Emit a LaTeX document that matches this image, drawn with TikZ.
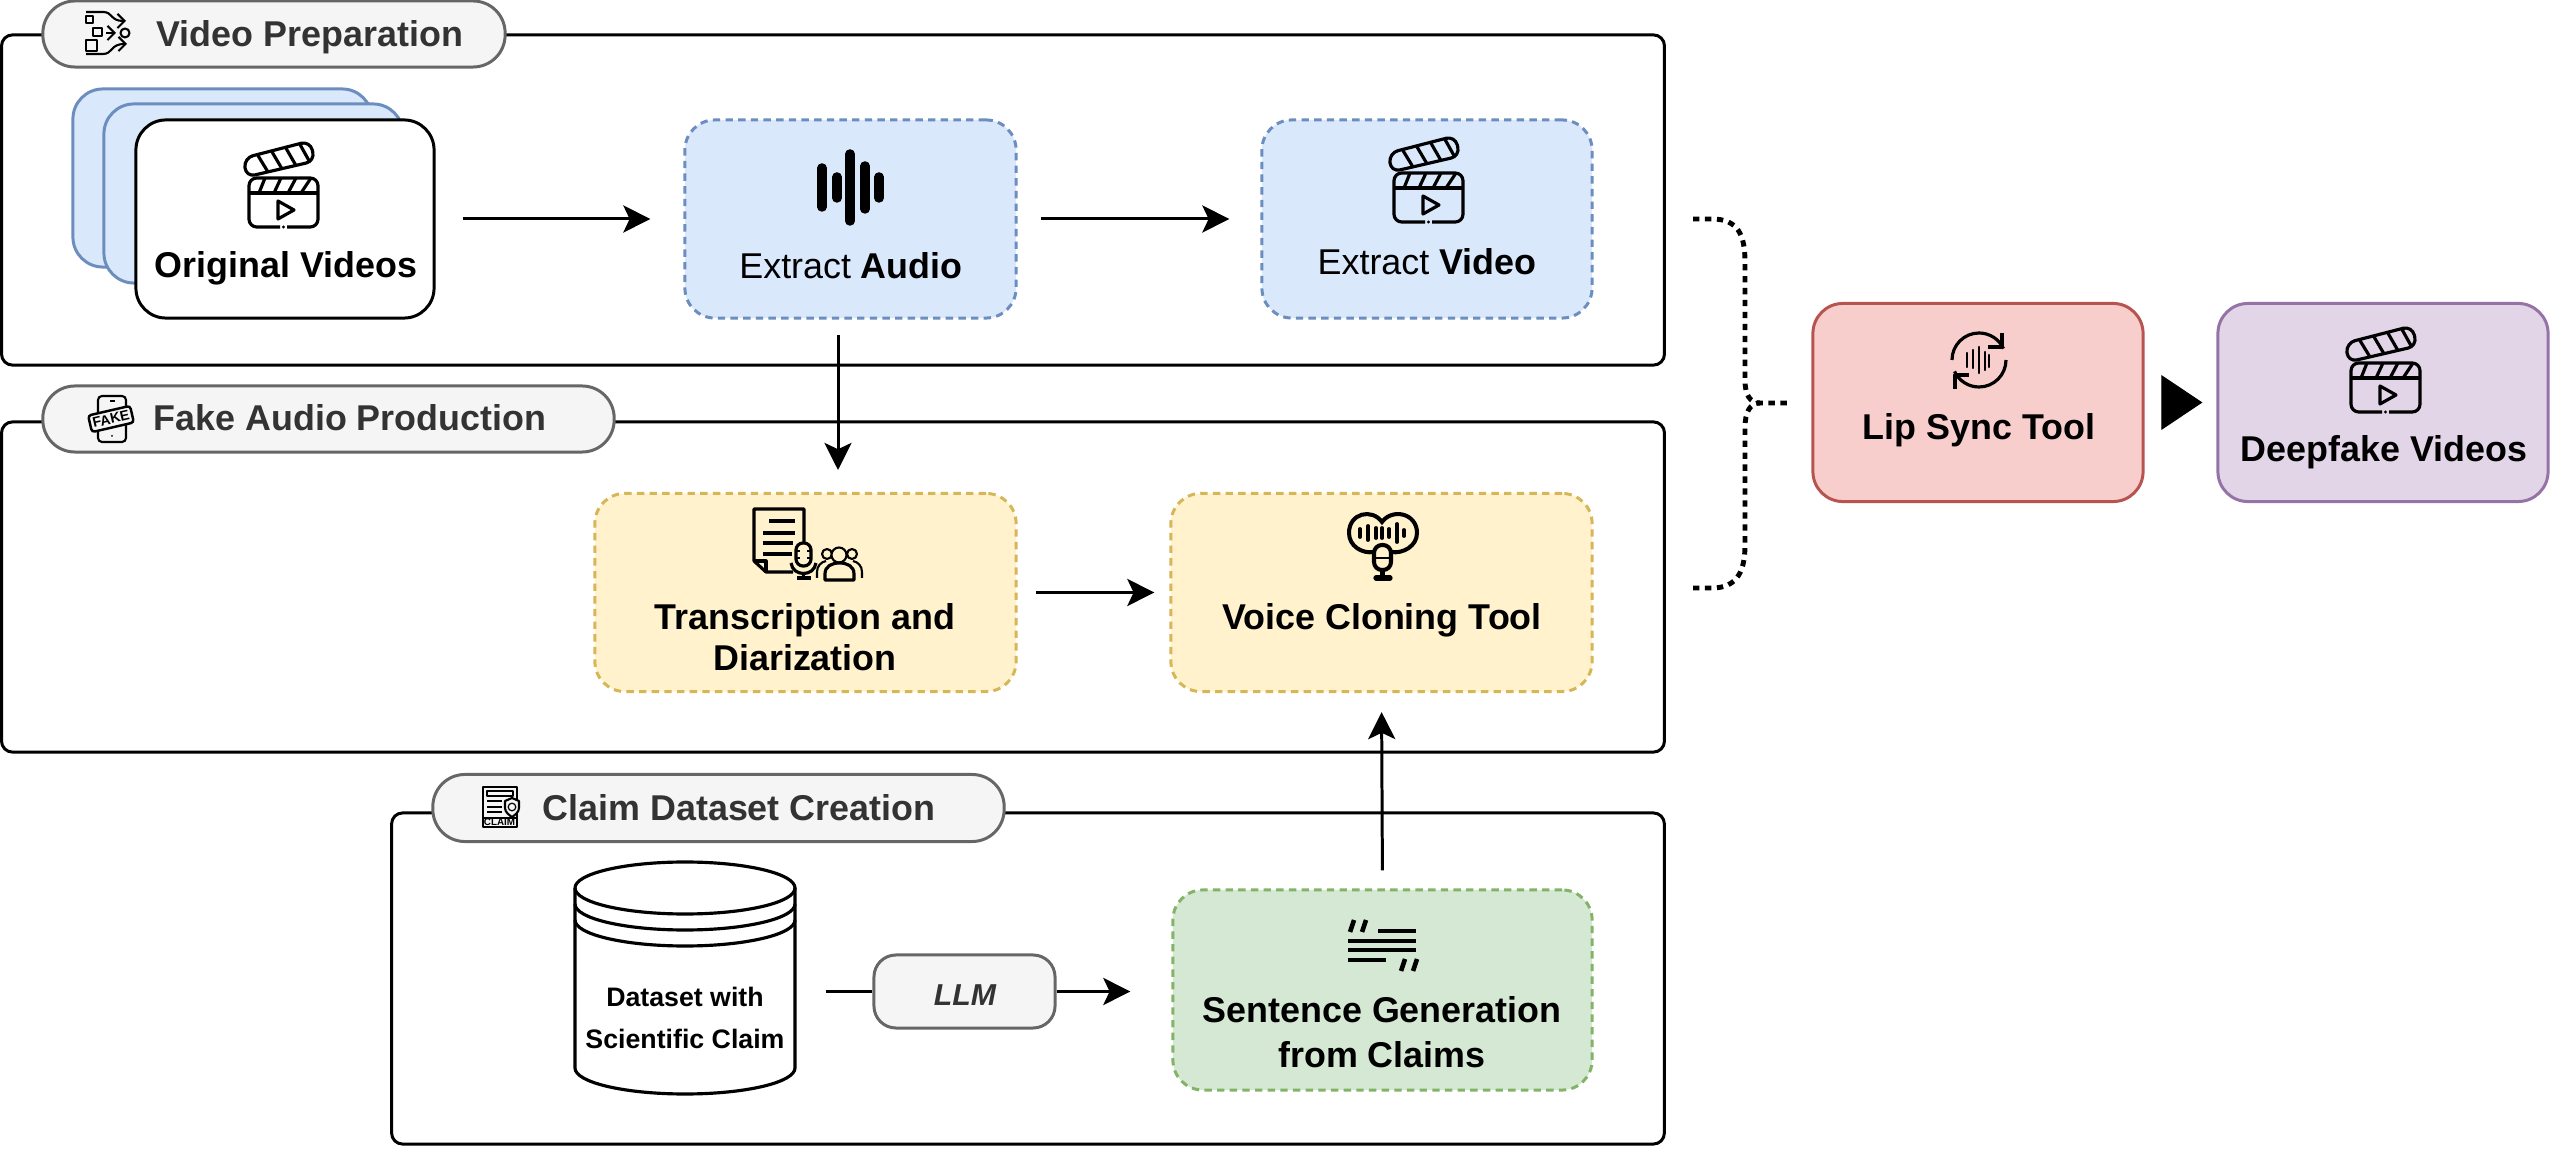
\documentclass[tikz,border=0pt]{standalone}
\usepackage{fontspec}
\setmainfont{Liberation Sans}
\usetikzlibrary{arrows.meta}
\definecolor{blueFill}{HTML}{DAE8FC}
\definecolor{blueLine}{HTML}{6C8EBF}
\definecolor{goldFill}{HTML}{FFF2CC}
\definecolor{goldLine}{HTML}{D6B656}
\definecolor{greenFill}{HTML}{D5E8D4}
\definecolor{greenLine}{HTML}{82B366}
\definecolor{redFill}{HTML}{F8CECC}
\definecolor{redLine}{HTML}{B85450}
\definecolor{purpleFill}{HTML}{E1D5E7}
\definecolor{purpleLine}{HTML}{9673A6}
\definecolor{pillFill}{HTML}{F5F5F5}
\definecolor{pillLine}{HTML}{666666}
\definecolor{pillText}{HTML}{333333}
\tikzset{
  group box/.style={draw, line width=0.85pt, rounded corners=0.11cm, inner sep=0pt},
  pill box/.style={draw=pillLine, fill=pillFill, line width=0.85pt, rounded corners=0.32cm, inner sep=0pt},
  pill text/.style={text=pillText, font=\fontsize{10.2}{12}\selectfont\bfseries, inner sep=0pt, anchor=west},
  card box/.style={line width=0.85pt, rounded corners=0.3cm, inner sep=0pt, minimum height=1.98cm},
  dash box/.style={card box, dash pattern=on 2.1pt off 1.5pt},
  box text/.style={font=\fontsize{10.2}{11.8}\selectfont, align=center, inner sep=0pt},
  flow/.style={line width=0.85pt, -{Stealth[length=7.7pt, width=7.7pt, inset=1.8pt]}},
  brace dots/.style={line width=1.4pt, dash pattern=on 1.8pt off 1.6pt},
  icon line/.style={line width=0.9pt, line join=round},
  icon thin/.style={line width=0.6pt, line join=round},
  pics/clapper/.style={
    code={
      \draw[icon line, rounded corners=2.2pt] (31, 49) -- (0, 49) -- (0, 0) -- (69, 0) -- (69, 49) -- (38, 49);
      \fill (34.5, 49) circle[radius=1.6];
      \draw[icon line] (0, 15) -- (69, 15);
      \foreach \a/\b in {16/10, 32/25, 47/39, 62/52} {
        \draw[icon line] (\a, 0) -- (\b, 15);
      }
      \draw[icon line, rounded corners=2.6pt] (-3, -1) -- (-5, -20) -- (61, -37) -- (66, -17) -- cycle;
      \foreach \i in {0, 1, 2, 3} {
        \draw[icon line] ({9+14*\i}, {-22.4-3.7*\i}) -- ({19+14*\i}, {-6-3.2*\i});
      }
      \draw[icon line] (29, 23) -- (29, 41) -- (45, 32) -- cycle;
    }
  }
}

\begin{document}
\begin{tikzpicture}[x=0.01cm, y=-0.01cm]
			\useasboundingbox (0, 0) rectangle (2550, 1149);

			% section frames
			\node[group box, minimum width=16.62cm, minimum height=3.3cm] (prepframe) at (833, 200) {};
			\node[group box, minimum width=16.62cm, minimum height=3.3cm] (fakeframe) at (833, 587) {};
			\node[group box, minimum width=12.72cm, minimum height=3.31cm] (claimframe) at (1028, 978.5) {};

			% section titles
			\node[pill box, minimum width=4.62cm, minimum height=0.66cm] (preppill) at (274, 34) {};
			\node[pill text] (preptext) at (156, 37) {Video Preparation};
			\node[pill box, minimum width=5.71cm, minimum height=0.66cm] (fakepill) at (328.5, 419) {};
			\node[pill text] (faketext) at (153, 418) {Fake Audio Production};
			\node[pill box, minimum width=5.71cm, minimum height=0.67cm] (claimpill) at (718.5, 808) {};
			\node[pill text] (claimtext) at (542, 808) {Claim Dataset Creation};

			% stacked cards
			\node[card box, draw=blueLine, fill=blueFill, minimum width=2.99cm, minimum height=1.78cm] (backa) at (222.5, 178) {};
			\node[card box, draw=blueLine, fill=blueFill, minimum width=2.99cm, minimum height=1.79cm] (backb) at (253.5, 193.5) {};
			\node[card box, draw=black, fill=white, minimum width=2.98cm] (orig) at (285, 219) {};

			% process boxes
			\node[dash box, draw=blueLine, fill=blueFill, minimum width=3.31cm] (audio) at (850.5, 219) {};
			\node[dash box, draw=blueLine, fill=blueFill, minimum width=3.3cm] (video) at (1427, 219) {};
			\node[dash box, draw=goldLine, fill=goldFill, minimum width=4.21cm] (transcribe) at (805.5, 592.5) {};
			\node[dash box, draw=goldLine, fill=goldFill, minimum width=4.21cm] (voice) at (1381.5, 592.5) {};
			\node[dash box, draw=greenLine, fill=greenFill, minimum width=4.19cm, minimum height=2cm] (sentence) at (1382.5, 990) {};
			\node[card box, draw=redLine, fill=redFill, minimum width=3.3cm] (lipsync) at (1978, 402.5) {};
			\node[card box, draw=purpleLine, fill=purpleFill, minimum width=3.3cm] (deepfake) at (2383, 402.5) {};
			\node[draw=pillLine, fill=pillFill, line width=0.85pt, rounded corners=0.22cm, inner sep=0pt, minimum width=1.81cm, minimum height=0.73cm] (llm) at (964.5, 991.5) {};
			\node[font=\fontsize{8.6}{10}\selectfont\bfseries\itshape, text=pillText, inner sep=0pt] (llmtext) at (965, 995) {LLM};

			% box texts
			\node[box text] (origtext) at (286, 268) {\bfseries Original Videos};
			\node[box text] (audiotext) at (851, 266) {Extract \textbf{Audio}};
			\node[box text] (videotext) at (1427, 262) {Extract \textbf{Video}};
			\node[box text] (transcribetext) at (805, 637) {\bfseries Transcription and\\ \bfseries Diarization};
			\node[box text] (voicetext) at (1382, 620) {\bfseries Voice Cloning Tool};
			\node[box text, font=\fontsize{10.2}{12.8}\selectfont] (sentencetext) at (1382, 1032) {\bfseries Sentence Generation\\ \bfseries from Claims};
			\node[box text] (lipsynctext) at (1979, 430) {\bfseries Lip Sync Tool};
			\node[box text] (deepfaketext) at (2384, 452) {\bfseries Deepfake Videos};

			% dataset cylinder
			\node[inner sep=0pt, minimum width=2.2cm, minimum height=2.32cm] (dataset) at (685, 978) {};
			\draw[icon line] (575, 888) arc[start angle=180, end angle=-180, x radius=110, y radius=26];
			\draw[icon line] (575, 888) -- (575, 1068) arc[start angle=180, end angle=0, x radius=110, y radius=26] -- (795, 888);
			\draw[icon line] (575, 904) arc[start angle=180, end angle=0, x radius=110, y radius=26];
			\draw[icon line] (575, 920) arc[start angle=180, end angle=0, x radius=110, y radius=26];
			\node[align=center, inner sep=0pt, font=\fontsize{7.6}{11.9}\selectfont\bfseries] (datasettext) at (685, 1018) {Dataset with\\ Scientific Claim};

			% connectors
			\draw[flow, shorten <=0.27cm, shorten >=0.33cm] (orig.east) -- (audio.west);
			\draw[flow, shorten <=0.23cm, shorten >=0.31cm] (audio.east) -- (video.west);
			\coordinate (audioout) at (838, 335);
			\coordinate (transin) at (838, 470);
			\draw[flow] (audioout) -- (transin);
			\draw[flow, shorten <=0.18cm, shorten >=0.15cm] (transcribe.east) -- (voice.west);
			\draw[flow, shorten <=0.18cm, shorten >=0.19cm] (sentence.north) -- (voice.south);
			\draw[line width=0.85pt, shorten <=0.3cm] (dataset.east |- llm.west) -- (llm.west);
			\draw[flow, shorten >=0.41cm] (llm.east) -- (llm.east -| sentence.west);
			\draw[line width=0.3pt, -{Triangle[length=11.7pt, width=15.6pt]}, shorten <=0.25cm, shorten >=0.14cm] (lipsync.east) -- (deepfake.west);

			% dotted brace
			\coordinate (bracetop) at (1693, 219);
			\coordinate (bracebot) at (1693, 588);
			\coordinate (bracetip) at (1790, 403);
			\draw[brace dots] (bracetop) -- (1712, 219) .. controls (1738, 219) and (1745, 235) .. (1745, 262) -- (1745, 380) .. controls (1745, 395) and (1750, 403) .. (1760, 403) -- (bracetip);
			\draw[brace dots] (bracebot) -- (1712, 588) .. controls (1738, 588) and (1745, 570) .. (1745, 545) -- (1745, 428) .. controls (1745, 412) and (1750, 403) .. (1760, 403);

			% clapper icons
			\pic at (249, 178) {clapper};
			\pic at (1394, 173) {clapper};
			\pic at (2351, 363) {clapper};

			% waveform icon
			\foreach \bx/\by/\bz in {822/168/207, 837/177/198, 850/154/221, 865/166/209, 879/177/198} {
				\draw[line width=2.7pt, line cap=round] (\bx, \by) -- (\bx, \bz);
			}

			% transcription icon
			\draw[icon line] (804, 542) -- (804, 509) -- (754, 509) -- (754, 561) -- (766, 572) -- (793, 572);
			\draw[icon line] (754, 561) -- (766, 561) -- (766, 572);
			\foreach \ly/\la/\lb in {521/769/795, 533/763/795, 543/763/793, 554/763/792} {
				\draw[icon line] (\la, \ly) -- (\lb, \ly);
			}
			\draw[icon line, fill=goldFill, rounded corners=0.07cm] (796, 543) rectangle (811, 566);
			\draw[icon thin] (796, 551) -- (800, 551) (807, 551) -- (811, 551) (796, 558) -- (800, 558) (807, 558) -- (811, 558);
			\draw[icon line] (791, 563) .. controls (793, 577) and (814, 577) .. (816, 563);
			\draw[icon line] (803.5, 574) -- (803.5, 578) (797, 578) -- (811, 578);
			\draw[icon thin] (827, 554) circle[radius=5] (852, 554) circle[radius=5];
			\draw[icon thin] (817, 578) -- (817, 572) .. controls (817, 566) and (821, 562) .. (826, 561);
			\draw[icon thin] (862, 578) -- (862, 572) .. controls (862, 566) and (858, 562) .. (853, 561);
			\draw[icon thin, fill=goldFill] (839, 555) circle[radius=7.5];
			\draw[icon line, fill=goldFill] (825, 580) -- (825, 574) .. controls (825, 566) and (832, 563) .. (839.5, 563) .. controls (847, 563) and (854, 566) .. (854, 574) -- (854, 580) -- cycle;

			% voice icon
			\draw[line width=1.15pt, fill=goldFill] (1382, 522) .. controls (1372, 508) and (1349, 513) .. (1349, 533) .. controls (1349, 546) and (1362, 554) .. (1374, 552) -- (1391, 552) .. controls (1403, 554) and (1417, 546) .. (1417, 533) .. controls (1417, 513) and (1392, 508) .. (1382, 522) -- cycle;
			\foreach \bx/\bh in {1360/4, 1368/7, 1376/5, 1382/5, 1389/4, 1397/9, 1404/3} {
				\draw[line width=1.1pt, line cap=round] (\bx, {533-\bh}) -- (\bx, {533+\bh});
			}
			\draw[line width=1.15pt, fill=goldFill, rounded corners=0.08cm] (1374, 545) rectangle (1391, 570);
			\draw[line width=0.7pt] (1374, 558) -- (1391, 558);
			\draw[line width=1.15pt] (1382.5, 570) -- (1382.5, 577);
			\draw[line width=1.5pt, line cap=round] (1376, 578) -- (1390, 578);

			% quote icon
			\foreach \qy/\qa/\qb in {931/1378/1416, 941/1348/1416, 950/1348/1416, 960/1348/1386} {
				\draw[line width=1pt] (\qa, \qy) -- (\qb, \qy);
			}
			\draw[line width=1.3pt] (1354, 920) -- (1350, 932) (1366, 920) -- (1362, 932);
			\draw[line width=1.3pt] (1405, 959) -- (1401, 971) (1417, 959) -- (1413, 971);

			% lip sync icon
			\draw[icon line] (1952, 360) arc[start angle=180, end angle=335, radius=27];
			\draw[icon line] (2006, 360) arc[start angle=0, end angle=155, radius=27];
			\draw[icon line] (2002, 333) -- (2002, 347) -- (1988, 347);
			\draw[icon line] (1955, 389) -- (1955, 375) -- (1969, 375);
			\foreach \bx/\by/\bz in {1967/353/367, 1973/350/368, 1979/347/373, 1985/352/370, 1989/355/367} {
				\draw[line width=0.7pt, line cap=round] (\bx, \by) -- (\bx, \bz);
			}

			% workflow icon
			\draw[icon thin] (86, 16) rectangle (93, 23) (93, 28) rectangle (102, 36) (86, 40) rectangle (97, 51);
			\draw[icon thin, -{Straight Barb[length=2pt]}] (86, 12) -- (103, 12) .. controls (113, 12) and (110, 21) .. (126, 21);
			\draw[icon thin, -{Straight Barb[length=2pt]}] (86, 54) -- (103, 54) .. controls (113, 54) and (110, 44) .. (127, 44);
			\draw[icon thin, -{Straight Barb[length=2pt]}] (106, 33) -- (116, 33);
			\draw[icon thin] (125, 33) circle[radius=4.5];

			% fake icon
			\draw[icon thin, rounded corners=0.04cm] (98, 396) rectangle (126, 442);
			\draw[icon thin] (110, 401) -- (115, 401);
			\fill (112, 436) circle[radius=1];
			\node[draw, fill=pillFill, line width=0.7pt, rotate=13, rounded corners=0.03cm, inner sep=0pt, minimum width=0.43cm, minimum height=0.17cm,
				font=\fontsize{4}{4}\selectfont\bfseries] (fakeband) at (111, 419) {FAKE};

			% claim icon
			\draw[icon thin] (483, 787) rectangle (517, 827);
			\draw[icon thin] (487, 791) rectangle (513, 796);
			\foreach \ly in {801, 807, 812} {
				\draw[icon thin] (487, \ly) -- (502, \ly);
			}
			\draw[line width=0.4pt] (483, 818) -- (517, 818);
			\draw[icon thin, fill=pillFill] (512, 798) -- (519, 801) -- (519, 808) .. controls (519, 812) and (515, 815) .. (512, 817) .. controls (509, 815) and (505, 812) .. (505, 808) -- (505, 801) -- cycle;
			\draw[line width=0.35pt] (512, 807) circle[radius=3.8];
			\node[inner sep=0pt, font=\fontsize{2.8}{3}\selectfont\bfseries] (claimword) at (499.5, 822.5) {CLAIM};
\end{tikzpicture}
\end{document}
